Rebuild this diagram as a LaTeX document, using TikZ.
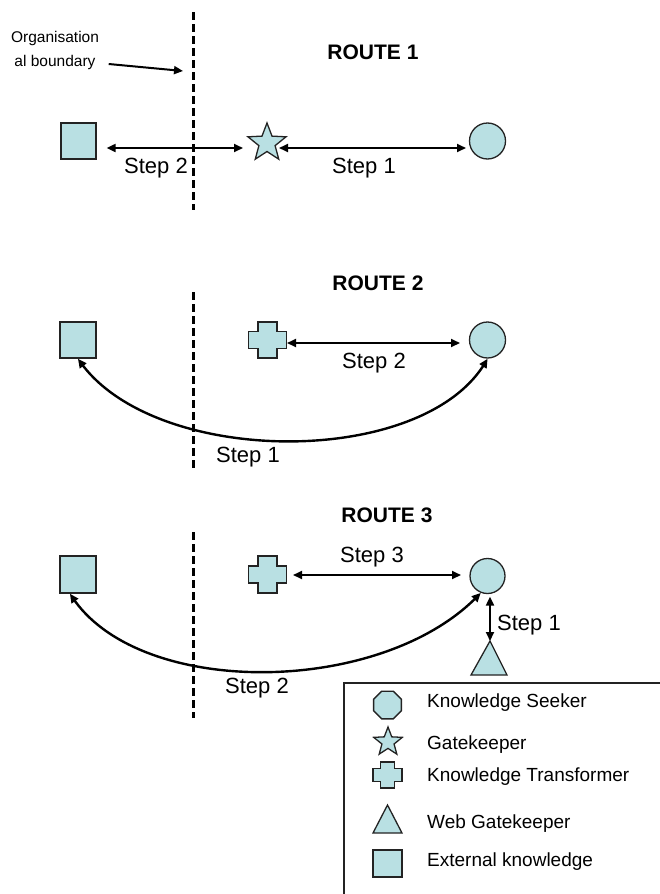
\documentclass[tikz,border=0pt]{standalone}
\usepackage{fontspec}
\setmainfont{Liberation Sans}
\usetikzlibrary{arrows.meta,shapes.geometric,bending,calc}
\definecolor{shapefill}{RGB}{185,224,227}
\definecolor{shapeline}{RGB}{35,35,35}
\newcommand\drawplus[5]{%
  \draw[fillshape, shift={(#1.center)}]
    (-#4,-#3) -- (#4,-#3) -- (#4,-#5) -- (#2,-#5) -- (#2,#5) -- (#4,#5) --
    (#4,#3) -- (-#4,#3) -- (-#4,#5) -- (-#2,#5) -- (-#2,-#5) -- (-#4,-#5) -- cycle;}
\begin{document}
\begin{tikzpicture}[x=1pt,y=-1pt,
  fillshape/.style={draw=shapeline, fill=shapefill, line width=1.3pt},
  sqnode/.style={fillshape, rectangle, inner sep=0pt},
  starnode/.style={fillshape, star, star points=5, star point ratio=2.35, inner sep=0pt},
  circnode/.style={fillshape, circle, inner sep=0pt},
  octnode/.style={fillshape, regular polygon, regular polygon sides=8, inner sep=0pt},
  plusnode/.style={inner sep=0pt},
  arr/.style={line width=2pt, {Triangle[length=9pt,width=8pt]}-{Triangle[length=9pt,width=8pt]}},
  arrc/.style={line width=2.4pt, {Triangle[length=9pt,width=8pt,bend]}-{Triangle[length=9pt,width=8pt,bend]}},
  arr1/.style={line width=2pt, -{Triangle[length=9pt,width=8pt]}},
  boundary/.style={line width=3pt, dash pattern=on 8pt off 4pt},
  steplabel/.style={inner sep=0pt, font=\fontsize{22}{26}\selectfont},
  routelabel/.style={inner sep=0pt, font=\fontsize{21}{25}\selectfont\bfseries},
  legtext/.style={inner sep=0pt, anchor=west, font=\fontsize{19}{23}\selectfont},
  orglabel/.style={inner sep=0pt, font=\fontsize{15.5}{19}\selectfont}
]
\useasboundingbox (0,0) rectangle (659,894);

% ---------------- boundaries
\coordinate (b1t) at (193,12);  \coordinate (b1b) at (193,210);
\coordinate (b2t) at (193,292); \coordinate (b2b) at (193,470);
\coordinate (b3t) at (193,532); \coordinate (b3b) at (193,718);
\draw[boundary] (b1t) -- (b1b);
\draw[boundary] (b2t) -- (b2b);
\draw[boundary] (b3t) -- (b3b);

% ---------------- Route 1
\node[orglabel] (org1) at (55,38) {Organisation};
\node[orglabel] (org2) at (55,62) {al boundary};
\coordinate (bnd) at (183,71);
\draw[arr1] ([xshift=13pt,yshift=-2pt]org2.east) -- (bnd);
\node[routelabel] (r1) at (373,52) {ROUTE 1};

\node[sqnode, minimum width=35pt, minimum height=36pt] (sq1) at (78.5,141) {};
\node[starnode, minimum size=40pt] (star1) at (267,143) {};
\node[circnode, minimum size=36pt] (circ1) at (487.5,141) {};
\draw[arr] ([shift={(10,7)}]sq1.east) -- ([shift={(-24,5)}]star1.center);
\draw[arr] ([shift={(12,5)}]star1.center) -- ([shift={(-21.5,7)}]circ1.center);
\node[steplabel] at (156,168) {Step 2};
\node[steplabel] at (364,168) {Step 1};

% ---------------- Route 2
\node[routelabel] (r2) at (378,283) {ROUTE 2};
\node[sqnode, minimum width=36pt, minimum height=36pt] (sq2) at (78,340) {};
\node[plusnode, minimum width=38pt, minimum height=36pt] (cr2) at (267.5,340) {};
\drawplus{cr2}{19}{18}{9.5}{8.5}
\node[circnode, minimum size=36pt] (circ2) at (487.5,340) {};
\draw[arr] ([shift={(19.5,3)}]cr2.center) -- ([shift={(-27.5,3)}]circ2.center);
\node[steplabel] at (374,363) {Step 2};
\draw[arrc] (sq2.south) .. controls (150,468) and (428,470) .. (circ2.south);
\node[steplabel] at (248,457) {Step 1};

% ---------------- Route 3
\node[routelabel] (r3) at (387,515) {ROUTE 3};
\node[sqnode, minimum width=36pt, minimum height=37pt] (sq3) at (78,574.5) {};
\node[plusnode, minimum width=38pt, minimum height=37pt] (cr3) at (267.5,574.5) {};
\drawplus{cr3}{19}{18.5}{9.5}{8.5}
\node[circnode, minimum size=35pt] (circ3) at (487.5,576) {};
\draw[arr] ([shift={(25.5,0.5)}]cr3.center) -- ([shift={(-26.5,-1)}]circ3.center);
\node[steplabel] at (372,557) {Step 3};
\draw[arrc] ([xshift=-8pt]sq3.south) .. controls (135,700) and (385,697) .. (circ3.248);
\node[steplabel] at (257,688) {Step 2};
\coordinate (tri3) at (490,641);
\draw[fillshape] (tri3) -- ++(-19,34) -- ++(36,0) -- cycle;
\draw[arr] ([shift={(2.5,2.5)}]circ3.south) -- (tri3);
\node[steplabel] at (529,625) {Step 1};

% ---------------- Legend
\draw[line width=1.2pt, draw=shapeline] (344,683) rectangle (680,910);
\node[octnode, minimum size=30pt] (lg1) at (387.5,705) {};
\node[legtext] at (427,703) {Knowledge Seeker};
\node[starnode, minimum size=30pt] (lg2) at (388,742) {};
\node[legtext] at (427,745) {Gatekeeper};
\node[plusnode, minimum width=29pt, minimum height=26pt] (lg3) at (387.5,775) {};
\drawplus{lg3}{14.5}{13}{7}{6.5}
\node[legtext] at (427,777) {Knowledge Transformer};
\coordinate (lg4) at (387.5,805);
\draw[fillshape] (lg4) -- ++(-14.5,28) -- ++(29,0) -- cycle;
\node[legtext] at (427,824) {Web Gatekeeper};
\node[sqnode, minimum width=29pt, minimum height=27pt] (lg5) at (387.5,863.5) {};
\node[legtext] at (427,862) {External knowledge};
\end{tikzpicture}
\end{document}
